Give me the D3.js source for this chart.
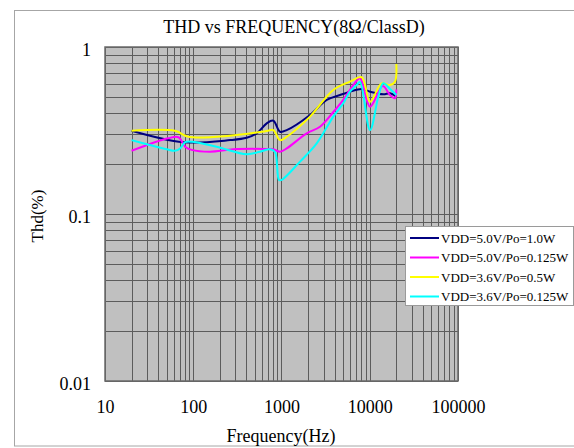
<!DOCTYPE html>
<html>
<head>
<meta charset="utf-8">
<script src="https://cdn.jsdelivr.net/npm/d3@7/dist/d3.min.js"></script>
<style>
  html, body { margin: 0; padding: 0; background: #ffffff; }
  svg { display: block; }
  text { font-family: "Liberation Serif", "DejaVu Serif", serif; fill: #000; }
</style>
</head>
<body>
<svg id="chart" width="574" height="448"></svg>
<script>
// ---- data ----
const titleText = "THD vs FREQUENCY(8Ω/ClassD)";
const xTitle = "Frequency(Hz)";
const yTitle = "Thd(%)";
const xTickValues = [10, 100, 1000, 10000, 100000];
const xTickLabels = ["10", "100", "1000", "10000", "100000"];
const yTickValues = [0.01, 0.1, 1];
const yTickLabels = ["0.01", "0.1", "1"];

const seriesNames = ["VDD=5.0V/Po=1.0W", "VDD=5.0V/Po=0.125W", "VDD=3.6V/Po=0.5W", "VDD=3.6V/Po=0.125W"];
const seriesColors = ["#000080", "#ff00ff", "#ffff00", "#00ffff"];

const navyFreq = [20, 77, 261, 403, 524, 680, 807, 962, 1145, 2104, 3251, 4603, 5970, 8110, 10070, 14250, 16960, 20000];
const navyThd  = [0.315, 0.269, 0.277, 0.286, 0.304, 0.349, 0.362, 0.311, 0.318, 0.392, 0.482, 0.516, 0.540, 0.561, 0.540, 0.521, 0.528, 0.505];

const magentaFreq = [20, 52, 68, 81, 96, 155, 284, 680, 807, 962, 1145, 1930, 2730, 3865, 5010, 6510, 7750, 10070, 14000, 16960, 19300, 20000];
const magentaThd  = [0.239, 0.284, 0.288, 0.253, 0.242, 0.236, 0.244, 0.245, 0.244, 0.236, 0.247, 0.304, 0.333, 0.408, 0.482, 0.592, 0.650, 0.439, 0.584, 0.516, 0.493, 0.556];

const yellowFreq = [20, 62, 88, 261, 680, 807, 962, 1145, 2104, 3865, 5970, 8110, 10070, 13650, 16960, 19300, 20000];
const yellowThd  = [0.315, 0.315, 0.290, 0.294, 0.314, 0.318, 0.277, 0.290, 0.383, 0.553, 0.620, 0.659, 0.470, 0.606, 0.592, 0.620, 0.791];

const cyanFreq = [20, 32, 50, 62, 71, 81, 96, 184, 403, 571, 741, 844, 937, 1005, 1622, 2507, 3865, 5010, 5970, 7110, 7750, 10070, 12510, 14250, 16960, 20000];
const cyanThd  = [0.277, 0.259, 0.244, 0.239, 0.247, 0.269, 0.271, 0.253, 0.228, 0.236, 0.244, 0.235, 0.160, 0.160, 0.206, 0.265, 0.383, 0.460, 0.540, 0.592, 0.617, 0.318, 0.504, 0.606, 0.561, 0.516];

const seriesFreqs = [navyFreq, magentaFreq, yellowFreq, cyanFreq];
const seriesThds = [navyThd, magentaThd, yellowThd, cyanThd];

// ---- layout ----
const svg = d3.select("#chart");
const plot = { left: 105, right: 458, top: 47, bottom: 381 };

const x = d3.scaleLog().domain([10, 100000]).range([plot.left, plot.right]);
const y = d3.scaleLog().domain([0.01, 1]).range([plot.bottom, plot.top]);

// outer frame
svg.append("rect")
  .attr("x", 14.5).attr("y", 10.5).attr("width", 574 - 14.5 + 5).attr("height", 446 - 10.5)
  .attr("fill", "#ffffff").attr("stroke", "#a6a6a6").attr("stroke-width", 1);

// plot background
svg.append("rect")
  .attr("x", plot.left).attr("y", plot.top)
  .attr("width", plot.right - plot.left).attr("height", plot.bottom - plot.top)
  .attr("fill", "#c0c0c0");

// grid
const xGrid = [];
for (let e = 1; e <= 4; e++) for (let k = 1; k <= 9; k++) xGrid.push(k * Math.pow(10, e));
xGrid.push(100000);
const yGrid = [];
for (let e = -2; e <= -1; e++) for (let k = 1; k <= 9; k++) yGrid.push(+(k * Math.pow(10, e)).toPrecision(3));
yGrid.push(1);

const grid = svg.append("g").attr("stroke", "#5c5c5c").attr("stroke-width", 1);
grid.selectAll("line.vx").data(xGrid).enter().append("line")
  .attr("x1", d => Math.round(x(d)) + 0.5).attr("x2", d => Math.round(x(d)) + 0.5)
  .attr("y1", plot.top).attr("y2", plot.bottom);
grid.selectAll("line.hy").data(yGrid).enter().append("line")
  .attr("y1", d => Math.round(y(d)) + 0.5).attr("y2", d => Math.round(y(d)) + 0.5)
  .attr("x1", plot.left).attr("x2", plot.right);

// plot border
svg.append("rect")
  .attr("x", plot.left).attr("y", plot.top)
  .attr("width", plot.right - plot.left).attr("height", plot.bottom - plot.top)
  .attr("fill", "none").attr("stroke", "#6a6a6a").attr("stroke-width", 1.5);

// series
const line = d3.line()
  .x(d => x(d[0])).y(d => y(d[1]))
  .curve(d3.curveCatmullRom.alpha(0.5));

seriesNames.forEach((name, i) => {
  const pts = seriesFreqs[i].map((f, j) => [f, seriesThds[i][j]]);
  svg.append("path")
    .datum(pts)
    .attr("d", line)
    .attr("fill", "none")
    .attr("stroke", seriesColors[i])
    .attr("stroke-width", 2)
    .attr("stroke-linejoin", "round");
});

// axes
const xAxis = d3.axisBottom(x).tickValues(xTickValues).tickSize(0).tickPadding(0)
  .tickFormat((d, i) => xTickLabels[i]);
const gx = svg.append("g").attr("transform", `translate(0, 413)`).call(xAxis);
gx.select(".domain").remove();
gx.selectAll("text").attr("dy", 0).style("font-size", "18px")
  .style("font-family", "'Liberation Serif', serif").attr("fill", "#000");

const yAxis = d3.axisLeft(y).tickValues(yTickValues).tickSize(0).tickPadding(0)
  .tickFormat((d, i) => yTickLabels[i]);
const gy = svg.append("g").attr("transform", `translate(91, 0)`).call(yAxis);
gy.select(".domain").remove();
gy.selectAll("text").attr("dy", "0.38em").attr("x", 0).style("font-size", "18px")
  .style("font-family", "'Liberation Serif', serif").attr("fill", "#000")
  .attr("transform", "translate(0,2)");

// titles
svg.append("text").attr("x", 294).attr("y", 33).attr("text-anchor", "middle")
  .style("font-size", "18px").text(titleText);
svg.append("text").attr("x", 281).attr("y", 442).attr("text-anchor", "middle")
  .style("font-size", "18px").text(xTitle);
svg.append("text").attr("transform", "translate(43,216) rotate(-90)")
  .attr("text-anchor", "middle").style("font-size", "17px").text(yTitle);

// legend
const lg = svg.append("g");
lg.append("rect").attr("x", 405.5).attr("y", 226.5).attr("width", 168).attr("height", 79)
  .attr("fill", "#ffffff").attr("stroke", "#9a9a9a").attr("stroke-width", 1);
seriesNames.forEach((name, i) => {
  const ly = 238 + i * 19.5;
  lg.append("line").attr("x1", 410).attr("x2", 439).attr("y1", ly).attr("y2", ly)
    .attr("stroke", seriesColors[i]).attr("stroke-width", 2);
  lg.append("text").attr("x", 441).attr("y", ly + 4.5).style("font-size", "13px").text(name);
});
</script>
</body>
</html>
